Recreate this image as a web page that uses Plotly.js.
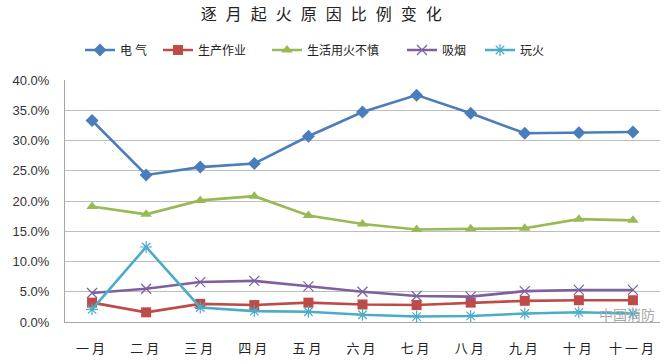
<!DOCTYPE html>
<html>
<head>
<meta charset="utf-8">
<script src="https://cdn.plot.ly/plotly-3.0.1.min.js"></script>
<style>
html,body{margin:0;padding:0;background:#fff;}
#chart{width:665px;height:364px;}
</style>
</head>
<body>
<div id="chart"></div>
<script>
const months = ['一月','二月','三月','四月','五月','六月','七月','八月','九月','十月','十一月'];
const electric = [33.3, 24.3, 25.6, 26.2, 30.7, 34.7, 37.5, 34.5, 31.2, 31.3, 31.4];
const production = [3.2, 1.6, 3.0, 2.8, 3.2, 2.9, 2.8, 3.2, 3.5, 3.6, 3.6];
const carelessFire = [19.1, 17.8, 20.1, 20.8, 17.6, 16.2, 15.3, 15.4, 15.5, 17.0, 16.8];
const smoking = [4.8, 5.5, 6.6, 6.8, 5.9, 5.0, 4.3, 4.2, 5.1, 5.3, 5.3];
const playFire = [2.1, 12.4, 2.4, 1.8, 1.7, 1.2, 0.9, 1.0, 1.4, 1.6, 1.4];
const seriesNames = ['电气','生产作业','生活用火不慎','吸烟','玩火'];
const yTickVals = [0,5,10,15,20,25,30,35,40];
const yTickText = ['0.0%','5.0%','10.0%','15.0%','20.0%','25.0%','30.0%','35.0%','40.0%'];

const cjk = '"Noto Sans CJK SC", sans-serif';
function tr(y, name, color, symbol, size, open, leg){
  return {
    x: months, y: y, name: name, type: 'scatter', mode: 'lines+markers',
    legend: leg,
    line: {color: color, width: 2.6},
    marker: open ? {symbol: symbol, size: size, color: color, line: {color: color, width: 1.2}}
                 : {symbol: symbol, size: size, color: color, line: {width: 0}},
    cliponaxis: false
  };
}
const data = [
  tr(electric, seriesNames[0], '#4a7ebb', 'diamond', 10, false, 'legend'),
  tr(production, seriesNames[1], '#be4b48', 'square', 10, false, 'legend2'),
  tr(carelessFire, seriesNames[2], '#98b954', 'triangle-up', 10, false, 'legend3'),
  tr(smoking, seriesNames[3], '#7d60a0', 'x-thin-open', 10, true, 'legend4'),
  tr(playFire, seriesNames[4], '#4bacc6', 'asterisk-open', 10, true, 'legend5')
];
const legFont = {family: cjk, size: 12, color: '#222'};
function leg(xPix){
  return {orientation: 'h', x: (xPix - 65) / 595, xanchor: 'left', y: (322 - 50) / 242, yanchor: 'middle',
          font: legFont, bgcolor: 'rgba(0,0,0,0)', borderwidth: 0};
}
const layout = {
  width: 665, height: 364,
  margin: {l: 65, r: 5, t: 80, b: 42},
  paper_bgcolor: '#fff', plot_bgcolor: '#fff',
  title: {text: '逐月起火原因比例变化', x: 0.49, xanchor: 'center', y: 0.975, yanchor: 'top',
          font: {family: cjk, size: 16, color: '#222'}},
  showlegend: true,
  legend: leg(80), legend2: leg(158), legend3: leg(267), legend4: leg(402), legend5: leg(480),
  xaxis: {type: 'category', range: [-0.5, 10.5], showgrid: false, showline: true,
          linecolor: '#a6a6a6', linewidth: 1, ticks: '', zeroline: false, ticklabelstandoff: 14,
          tickfont: {family: cjk, size: 13, color: '#222'}, fixedrange: true},
  yaxis: {range: [0, 40], tickvals: yTickVals, ticktext: yTickText, showgrid: true,
          gridcolor: '#bdbdbd', gridwidth: 1, showline: true, linecolor: '#a6a6a6',
          zeroline: false, ticks: '', ticklen: 0, ticklabelstandoff: 12,
          tickfont: {family: 'Liberation Sans, Arial, sans-serif', size: 13, color: '#333'}},
  annotations: [
    {text: '中国消防', xref: 'paper', yref: 'paper', x: 0.995, y: 0.035, xanchor: 'right', yanchor: 'middle',
     showarrow: false, font: {family: cjk, size: 14, color: '#aaaaaa'}}
  ]
};
Plotly.newPlot('chart', data, layout, {displayModeBar: false, staticPlot: true}).then(function(){
  var t = document.querySelector('.gtitle');
  if (t) { t.setAttribute('letter-spacing', '9px'); t.style.letterSpacing = '9px'; }
  document.querySelectorAll('.xtick text').forEach(function(e){ e.style.letterSpacing = '3px'; });
  document.querySelectorAll('.legendtext').forEach(function(e){ e.style.letterSpacing = '3px'; });
});
</script>
</body>
</html>
